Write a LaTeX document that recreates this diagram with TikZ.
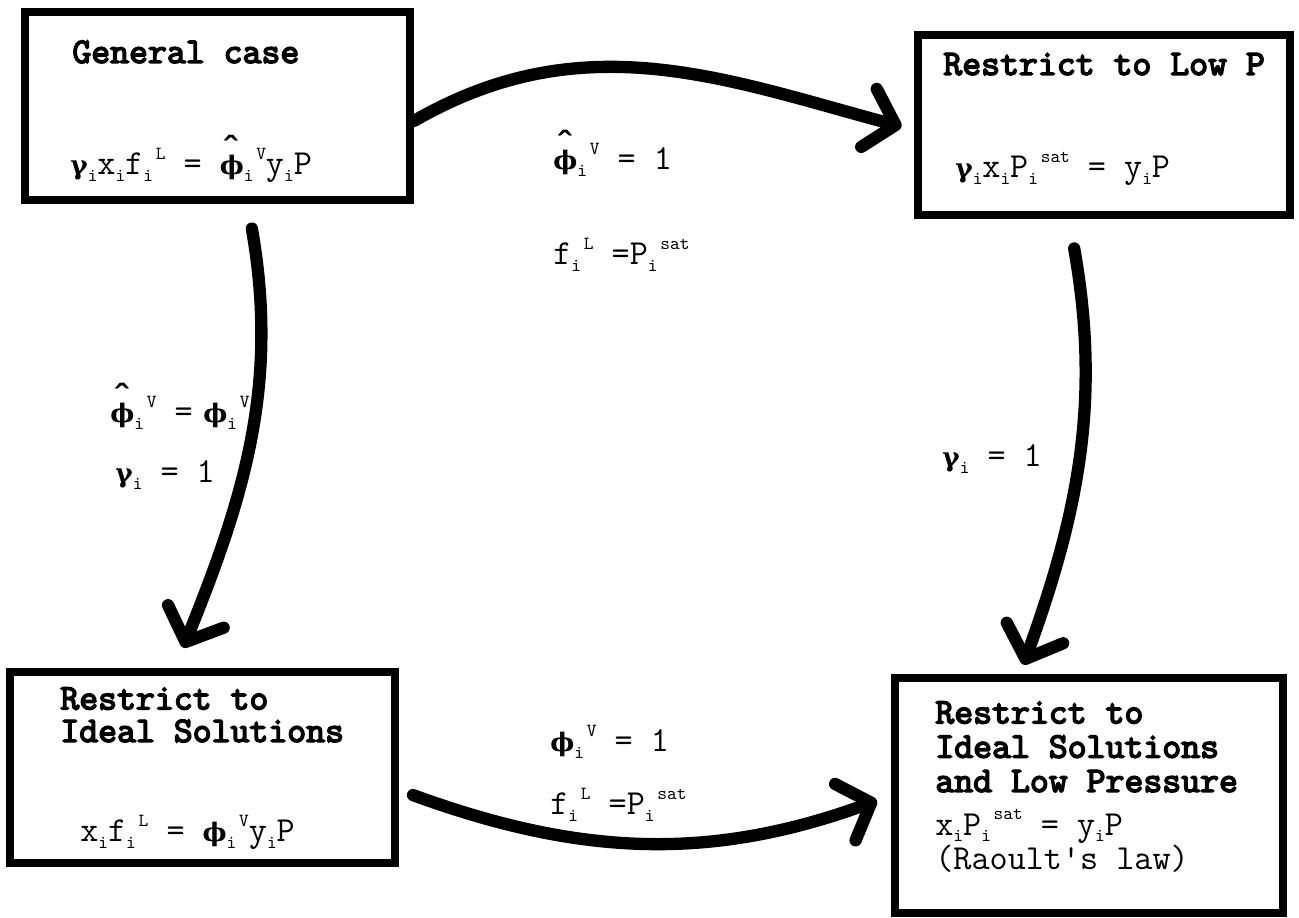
\documentclass[tikz,border=0pt]{standalone}
\usepackage{fontspec}
\newfontfamily\greekfont{DejaVu Serif}
\newfontfamily\titlefont{lmmono10-regular}[Extension=.otf, AutoFakeBold=4]
\usetikzlibrary{arrows.meta}

% small lowered / raised indices, set one after the other
\newcommand\lo[1]{\raisebox{-0.4ex}{\fontsize{10.5}{10.5}\selectfont #1}}
\newcommand\hi[1]{\hspace{0.08em}\raisebox{1.05ex}{\fontsize{10.5}{10.5}\selectfont #1}}
\newcommand\gam{{\greekfont\bfseries\fontsize{15}{15}\selectfont γ}}
\newcommand\phis{{\greekfont\bfseries\fontsize{14.5}{14.5}\selectfont ϕ}}
\newcommand\phihat{{\ooalign{\phis\cr\hidewidth\raisebox{0.42em}{\greekfont\bfseries\fontsize{15}{15}\selectfont\scalebox{1.5}[1.2]{ˆ}}\hidewidth\cr}}}

\tikzset{
    case/.style={draw, line width=4.5pt},
    flow/.style={line width=7pt, line cap=round,
        -{Straight Barb[length=5.5mm, width=12mm, line width=7pt, round]}},
    title/.style={font=\titlefont\bfseries\fontsize{20.5}{18.5}\selectfont, inner sep=0pt,
        anchor=base west, align=left},
    eqn/.style={font=\ttfamily\fontsize{20}{14}\selectfont, inner sep=0pt,
        anchor=base west, align=left}
}

\begin{document}
\begin{tikzpicture}
        \useasboundingbox (0,0) rectangle (25.98,18.36);

        % The four cases
        \node[case, minimum width=7.7cm, minimum height=3.76cm] (gen) at (4.35,16.24) {};
        \node[case, minimum width=7.44cm, minimum height=3.6cm] (low) at (22.08,15.86) {};
        \node[case, minimum width=7.7cm, minimum height=3.82cm] (ideal) at (4.05,3.01) {};
        \node[case, minimum width=7.76cm, minimum height=4.7cm] (raoult) at (21.78,2.45) {};

        % Texts inside the boxes (base = last line)
        \node[title] (gentitle) at (1.44,17.1) {General case};
        \node[eqn] (geneq) at (1.4,14.86) {\gam\lo{i}x\lo{i}f\lo{i}\hi{L} = \phihat\lo{i}\hi{V}y\lo{i}P};

        \node[title] (lowtitle) at (18.86,16.86) {Restrict to Low P};
        \node[eqn] (loweq) at (19.1,14.8) {\gam\lo{i}x\lo{i}P\lo{i}\hi{sat} = y\lo{i}P};

        \node[title] (idealtitle) at (1.2,3.52) {Restrict to\\Ideal Solutions};
        \node[eqn] (idealeq) at (1.6,1.52) {x\lo{i}f\lo{i}\hi{L} = \phis\lo{i}\hi{V}y\lo{i}P};

        \node[title] (raoulttitle) at (18.7,2.52) {Restrict to\\[1pt]Ideal Solutions\\[1pt]and Low Pressure};
        \node[eqn] (raoulteq) at (18.7,0.96) {x\lo{i}P\lo{i}\hi{sat} = y\lo{i}P\\(Raoult\textquotesingle s law)};

        % Arrows between the cases
        \draw[flow, shorten >=0.26cm] ([yshift=-0.3cm]gen.east) to[out=30, in=165] ([yshift=-0.1cm]low.west);
        \draw[flow, shorten <=0.5cm, shorten >=0.44cm] ([xshift=0.6cm]gen.south) to[out=-80, in=68] ([xshift=-0.55cm]ideal.north);
        \draw[flow, shorten <=0.6cm, shorten >=0.2cm] ([xshift=-0.7cm]low.south) to[out=-80, in=70] ([xshift=-1.38cm]raoult.north);
        \draw[flow, shorten <=0.3cm, shorten >=0.3cm] ([yshift=-0.45cm]ideal.east) to[out=-20, in=200] (raoult.west);

        % Conditions along the arrows
        \node[eqn] (c1a) at (11.06,14.96) {\phihat\lo{i}\hi{V} = 1};
        \node[eqn] (c1b) at (11.06,13.06) {f\lo{i}\hi{L} =P\lo{i}\hi{sat}};
        \node[eqn] (c2a) at (2.2,9.9) {\phihat\lo{i}\hi{V} =\hspace{0.3em}\phis\lo{i}\hi{V}};
        \node[eqn] (c2b) at (2.3,8.7) {\gam\lo{i} = 1};
        \node[eqn] (c3) at (18.84,9.02) {\gam\lo{i} = 1};
        \node[eqn] (c4a) at (11.0,3.32) {\phis\lo{i}\hi{V} = 1};
        \node[eqn] (c4b) at (11.0,2.06) {f\lo{i}\hi{L} =P\lo{i}\hi{sat}};
\end{tikzpicture}
\end{document}
